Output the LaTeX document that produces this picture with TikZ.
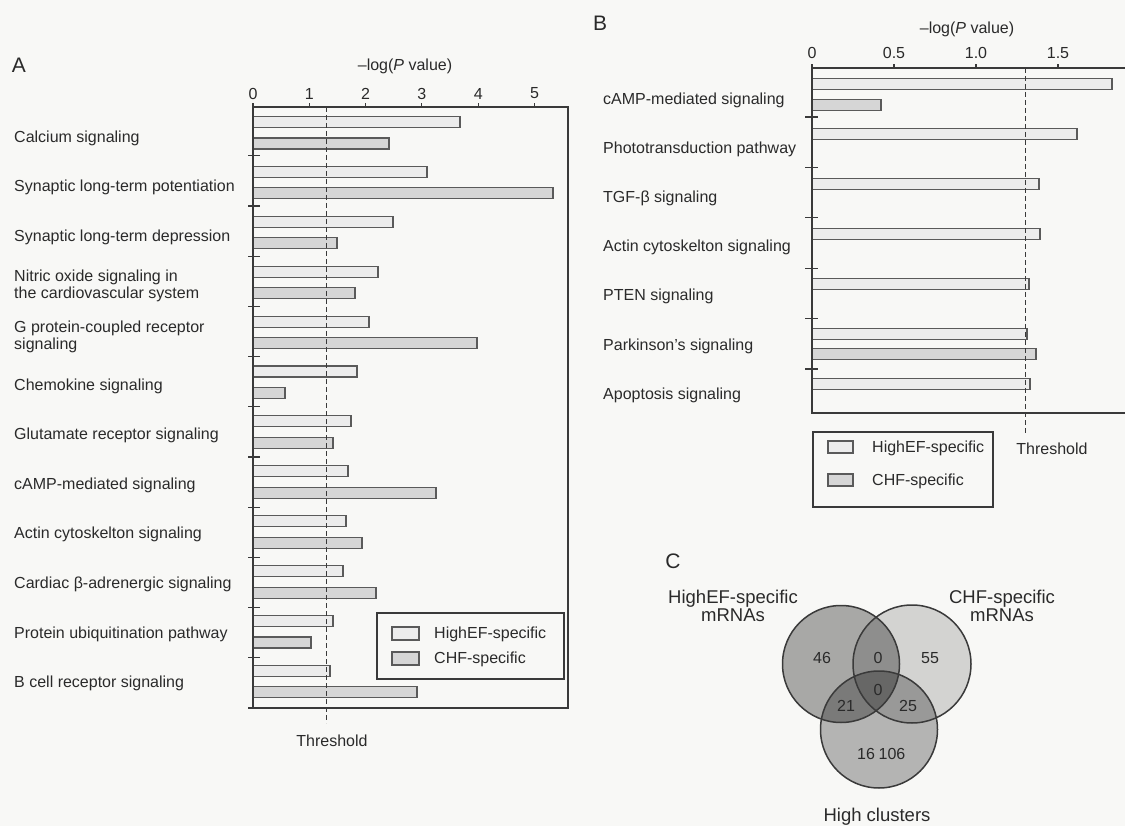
\documentclass[tikz,border=0pt]{standalone}
\usepackage{fontspec}
\setmainfont{Liberation Sans}
\definecolor{ink}{HTML}{2A2A2A}
\definecolor{axis}{HTML}{3A3A3A}
\definecolor{barline}{HTML}{5A5A5A}
\definecolor{hfill}{HTML}{ECECEC}
\definecolor{cfill}{HTML}{D6D6D6}
\definecolor{paper}{HTML}{F8F8F6}
\begin{document}
\begin{tikzpicture}[x=1pt,y=-1pt,
  txt/.style={font=\fontsize{16}{17}\selectfont, text=ink, inner sep=0pt},
  biglab/.style={font=\fontsize{21}{24}\selectfont, text=ink, inner sep=0pt},
  venn/.style={font=\fontsize{18.5}{18}\selectfont, text=ink, inner sep=0pt, align=center},
  barH/.style={draw=barline, fill=hfill, line width=1.1pt},
  barC/.style={draw=barline, fill=cfill, line width=1.1pt},
  frame/.style={draw=axis, line width=1.4pt},
  tickline/.style={draw=axis, line width=1.1pt},
  thr/.style={draw=axis, line width=1pt, dash pattern=on 5pt off 3pt},
  ring/.style={draw=axis, line width=1.5pt}]
\useasboundingbox (0,0) rectangle (1125,826);
\fill[paper] (0,0) rectangle (1125,826);

% ================= Panel A =================
\node[biglab] (labA) at (19,65) {A};
\node[txt] (titleA) at (405,66) {–log(\textit{P} value)};
\foreach \v [count=\i from 0] in {0,1,2,3,4,5}{
  \node[txt] (tA\i) at ({253+56.3*\i},93.5) {\v};
  \draw[tickline] ({253+56.3*\i},107) -- ({253+56.3*\i},103);
}
% bars
\foreach \e [count=\k from 0] in {460,427,393,378,369,357,351,348,346,343,333,330}{
  \draw[barH] (253,{122+49.9*\k-5.5}) rectangle (\e,{122+49.9*\k+5.5});
}
\foreach \e [count=\k from 0] in {389,553,337,355,477,285,333,436,362,376,311,417}{
  \draw[barC] (253,{143.5+49.9*\k-5.5}) rectangle (\e,{143.5+49.9*\k+5.5});
}
\draw[thr] (326.5,107) -- (326.5,723);
\draw[frame] (253,107) rectangle (568,708);
\foreach \k in {1,...,12}{
  \draw[tickline] (248,{105.6+50.2*\k}) -- (260,{105.6+50.2*\k});
}
\node[txt] (thrA) at (332,741) {Threshold};
% labels
\node[txt, anchor=west] (a1) at (14,138) {Calcium signaling};
\node[txt, anchor=west] (a2) at (14,187.6) {Synaptic long-term potentiation};
\node[txt, anchor=west] (a3) at (14,237.2) {Synaptic long-term depression};
\node[txt, anchor=west, align=left] (a4) at (14,286.2) {Nitric oxide signaling in\\the cardiovascular system};
\node[txt, anchor=west, align=left] (a5) at (14,336.4) {G protein-coupled receptor\\signaling};
\node[txt, anchor=west] (a6) at (14,386) {Chemokine signaling};
\node[txt, anchor=west] (a7) at (14,435.6) {Glutamate receptor signaling};
\node[txt, anchor=west] (a8) at (14,485.2) {cAMP-mediated signaling};
\node[txt, anchor=west] (a9) at (14,534.8) {Actin cytoskelton signaling};
\node[txt, anchor=west] (a10) at (14,584.4) {Cardiac β-adrenergic signaling};
\node[txt, anchor=west] (a11) at (14,634) {Protein ubiquitination pathway};
\node[txt, anchor=west] (a12) at (14,683.6) {B cell receptor signaling};
% legend A
\draw[frame, fill=paper] (377,613) rectangle (564,679);
\draw[barH] (392,627) rectangle (419,640);
\draw[barC] (392,652) rectangle (419,665);
\node[txt, anchor=west] (legA1) at (434,634) {HighEF-specific};
\node[txt, anchor=west] (legA2) at (434,659) {CHF-specific};

% ================= Panel B =================
\node[biglab] (labB) at (600,23) {B};
\node[txt] (titleB) at (967,29) {–log(\textit{P} value)};
\foreach \v [count=\i from 0] in {0,0.5,1.0,1.5}{
  \node[txt] (tB\i) at ({812+82*\i},53) {\v};
  \draw[tickline] ({812+82*\i},68) -- ({812+82*\i},64);
}
\foreach \e [count=\k from 0] in {1112,1077,1039,1040,1029,1027,1030}{
  \draw[barH] (812,{84+50*\k-5.5}) rectangle (\e,{84+50*\k+5.5});
}
\draw[barC] (812,{105-5.5}) rectangle (881,{105+5.5});
\draw[barC] (812,{354-5.5}) rectangle (1036,{354+5.5});
\draw[thr] (1025,68) -- (1025,433);
\draw[frame] (1125,68) -- (812,68) -- (812,413) -- (1125,413);
\foreach \k in {0,...,5}{
  \draw[tickline] (805,{117+50.4*\k}) -- (818,{117+50.4*\k});
}
\node[txt] (thrB) at (1052,449) {Threshold};
\node[txt, anchor=west] (b1) at (603,100) {cAMP-mediated signaling};
\node[txt, anchor=west] (b2) at (603,149.2) {Phototransduction pathway};
\node[txt, anchor=west] (b3) at (603,198.4) {TGF-β signaling};
\node[txt, anchor=west] (b4) at (603,247.6) {Actin cytoskelton signaling};
\node[txt, anchor=west] (b5) at (603,296.8) {PTEN signaling};
\node[txt, anchor=west] (b6) at (603,346) {Parkinson's signaling};
\node[txt, anchor=west] (b7) at (603,395.2) {Apoptosis signaling};
% legend B
\draw[frame, fill=paper] (813,432) rectangle (993,507);
\draw[barH] (828,441) rectangle (853,453);
\draw[barC] (828,474) rectangle (853,486);
\node[txt, anchor=west] (legB1) at (872,448) {HighEF-specific};
\node[txt, anchor=west] (legB2) at (872,481) {CHF-specific};

% ================= Panel C =================
\node[biglab] (labC) at (673,561) {C};
\fill[black, fill opacity=0.32] (841,664) circle[radius=58.5pt];
\fill[black, fill opacity=0.15] (912,664) circle[radius=59pt];
\fill[black, fill opacity=0.27] (879,729.5) circle[radius=58.5pt];
\draw[ring] (841,664) circle[radius=58.5pt];
\draw[ring] (912,664) circle[radius=59pt];
\draw[ring] (879,729.5) circle[radius=58.5pt];
\node[txt] (n46) at (822,658) {46};
\node[txt] (n0a) at (878,658) {0};
\node[txt] (n55) at (930,658) {55};
\node[txt] (n0b) at (878,690) {0};
\node[txt] (n21) at (846,706) {21};
\node[txt] (n25) at (908,706) {25};
\node[txt] (n16) at (866,754) {16};
\node[txt] (n106) at (892,754) {106};
\node[venn] (vHigh) at (733,606) {HighEF-specific\\mRNAs};
\node[venn] (vCHF) at (1002,606) {CHF-specific\\mRNAs};
\node[venn] (vClu) at (877,817) {High clusters};
\end{tikzpicture}
\end{document}
